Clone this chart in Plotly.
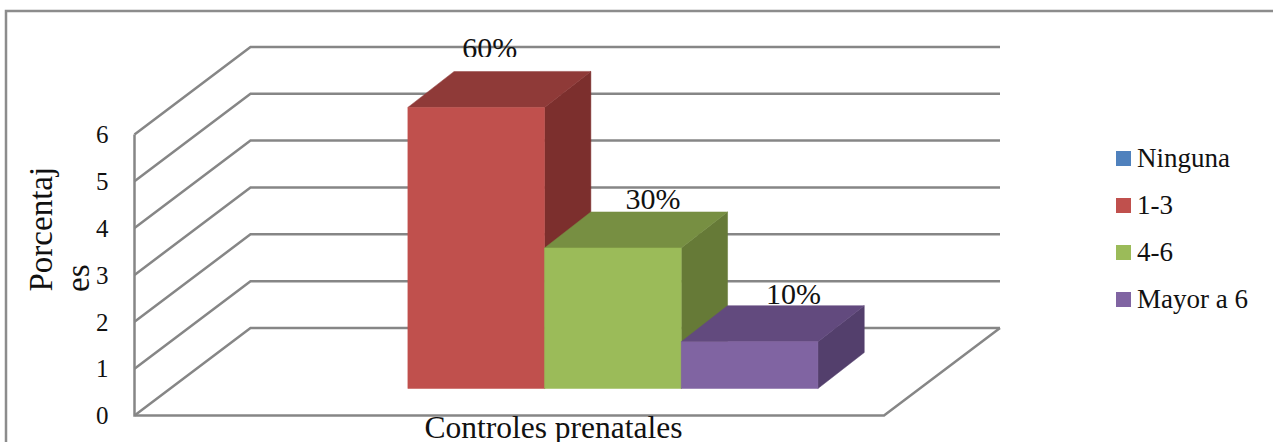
import plotly.graph_objects as go

# ---------- data ----------
category = "Controles prenatales"
series_names = ["Ninguna", "1-3", "4-6", "Mayor a 6"]
series_values = [0, 6, 3, 1]
value_labels = ["", "60%", "30%", "10%"]
y_ticks = [0, 1, 2, 3, 4, 5, 6]
y_title_lines = ["Porcentaj", "es"]

# ---------- style ----------
front_colors = ["#4F81BD", "#C0504D", "#9BBB59", "#8064A2"]
top_colors = ["#3F6797", "#8F3A38", "#778F42", "#624A7E"]
side_colors = ["#385D8A", "#7C2F2D", "#667A37", "#533F6C"]
grid_color = "#868686"
frame_color = "#8C8C8C"
FONT = "Liberation Serif"
TEXT = "#111111"

W, H = 1273, 442
PX_LEFT, PX_RIGHT, PX_FLOOR, PX_UNIT = 134.5, 884.0, 415.5, 46.85
PW = PX_RIGHT - PX_LEFT
DEPTH_X = 116.0 / PW
DEPTH_Y = 87.5 / PX_UNIT
BAR_W = 136.7 / PW
GAP = (1 - BAR_W * len(series_values)) / 2
BAR_START_X = 35.3 / PW
BAR_START_Y = 27.0 / PX_UNIT
BAR_DEPTH_X = 46.3 / PW
BAR_DEPTH_Y = 36.0 / PX_UNIT
LABEL_DX = [0, 13.5, 40, 44]
LABEL_UP = [0, 21, 10, 9]
LINE_W = 2.5
TITLE_X_PX = [40, 78]
LEG_TEXT_NUDGE = 2


def proj(x, v, d):
    return x + d * DEPTH_X, v + d * DEPTH_Y


def bar_pt(x, v, back):
    """Bar corner: back=0 front face, back=1 rear face."""
    return x + BAR_START_X + back * BAR_DEPTH_X, v + BAR_START_Y + back * BAR_DEPTH_Y


def poly(points):
    xs, ys = zip(*[bar_pt(*p) for p in points])
    return list(xs) + [xs[0]], list(ys) + [ys[0]]


def px_to_x(px):
    return (px - PX_LEFT) / PW


def py_to_y(py):
    return (PX_FLOOR - py) / PX_UNIT


fig = go.Figure()

# walls
for t in y_ticks:
    xs, ys = zip(proj(0, t, 0), proj(0, t, 1), proj(1, t, 1))
    fig.add_trace(go.Scatter(x=xs, y=ys, mode="lines", line=dict(color=grid_color, width=LINE_W),
                             showlegend=False, hoverinfo="skip"))
xs, ys = zip(proj(0, y_ticks[-1], 0), proj(0, 0, 0), proj(1, 0, 0), proj(1, 0, 1))
fig.add_trace(go.Scatter(x=xs, y=ys, mode="lines", line=dict(color=grid_color, width=LINE_W),
                         showlegend=False, hoverinfo="skip"))

# bars
for i, (name, v) in enumerate(zip(series_names, series_values)):
    if v == 0:
        continue
    x0 = GAP + i * BAR_W
    x1 = x0 + BAR_W
    faces = [
        (side_colors[i], [(x1, 0, 0), (x1, 0, 1), (x1, v, 1), (x1, v, 0)]),
        (top_colors[i], [(x0, v, 0), (x1, v, 0), (x1, v, 1), (x0, v, 1)]),
        (front_colors[i], [(x0, 0, 0), (x1, 0, 0), (x1, v, 0), (x0, v, 0)]),
    ]
    for col, pts in faces:
        xs, ys = poly(pts)
        fig.add_trace(go.Scatter(x=xs, y=ys, mode="lines", fill="toself", fillcolor=col,
                                 line=dict(color=col, width=0.5), name=name,
                                 showlegend=False, hoverinfo="skip"))

# value labels
lab_x, lab_y, lab_t = [], [], []
for i, (v, t) in enumerate(zip(series_values, value_labels)):
    if not t:
        continue
    cx = bar_pt(GAP + (i + 0.5) * BAR_W, v, 0)[0] + LABEL_DX[i] / PW
    cy = bar_pt(0, v, 1)[1] + LABEL_UP[i] / PX_UNIT
    lab_x.append(cx)
    lab_y.append(cy)
    lab_t.append(t)
fig.add_trace(go.Scatter(x=lab_x, y=lab_y, mode="text", text=lab_t, textposition="middle center",
                         textfont=dict(family=FONT, size=30, color=TEXT),
                         showlegend=False, hoverinfo="skip", cliponaxis=False))

# legend, drawn at the reference's tight spacing
leg_y_px = [158.5, 205.5, 252.5, 299.5]
for name, col, py in zip(series_names, front_colors, leg_y_px):
    fig.add_trace(go.Scatter(x=[px_to_x(1123.5)], y=[py_to_y(py)], mode="markers",
                             marker=dict(symbol="square", size=15, color=col, line=dict(width=0)),
                             name=name, showlegend=False, hoverinfo="skip", cliponaxis=False))
    fig.add_trace(go.Scatter(x=[px_to_x(1137)], y=[py_to_y(py + LEG_TEXT_NUDGE)], mode="text",
                             text=[name], textposition="middle right",
                             textfont=dict(family=FONT, size=27, color=TEXT),
                             showlegend=False, hoverinfo="skip", cliponaxis=False))

fig.update_layout(
    width=W, height=H, autosize=False,
    margin=dict(l=0, r=0, t=0, b=0),
    paper_bgcolor="white", plot_bgcolor="white",
    showlegend=False,
    xaxis=dict(range=[px_to_x(0), px_to_x(W)], domain=[0, 1], anchor="free", automargin=False,
               position=(H - PX_FLOOR + 10) / H, tickmode="array",
               tickvals=[px_to_x(553.5)], ticktext=[category],
               ticks="", showgrid=False, zeroline=False, showline=False,
               tickfont=dict(family=FONT, size=31.5, color=TEXT)),
    yaxis=dict(range=[py_to_y(H), py_to_y(0)], domain=[0, 1], anchor="free", automargin=False,
               position=PX_LEFT / W, tickmode="array", tickvals=y_ticks,
               ticks="outside", ticklen=21, tickcolor="rgba(0,0,0,0)",
               showgrid=False, zeroline=False, showline=False,
               tickfont=dict(family=FONT, size=25, color=TEXT)),
    shapes=[
        dict(type="rect", xref="paper", yref="paper", x0=6 / W, x1=1.05, y0=-0.05, y1=1 - 11 / H,
             line=dict(color=frame_color, width=2.5), fillcolor="rgba(0,0,0,0)", layer="above"),
        dict(type="rect", xref="x", yref="y", x0=px_to_x(440), x1=px_to_x(540),
             y0=py_to_y(71), y1=py_to_y(57), fillcolor="white", line=dict(width=0), layer="above"),
    ],
    annotations=[dict(text=t, xref="paper", yref="paper", x=px / W, y=1 - 294 / H,
                      xanchor="center", yanchor="bottom",
                      showarrow=False, textangle=-90,
                      font=dict(family=FONT, size=33, color=TEXT))
                 for t, px in zip(y_title_lines, TITLE_X_PX)],
)

fig.write_html("out.html", config={"displayModeBar": False},
               post_script="document.body.style.margin='0';")
